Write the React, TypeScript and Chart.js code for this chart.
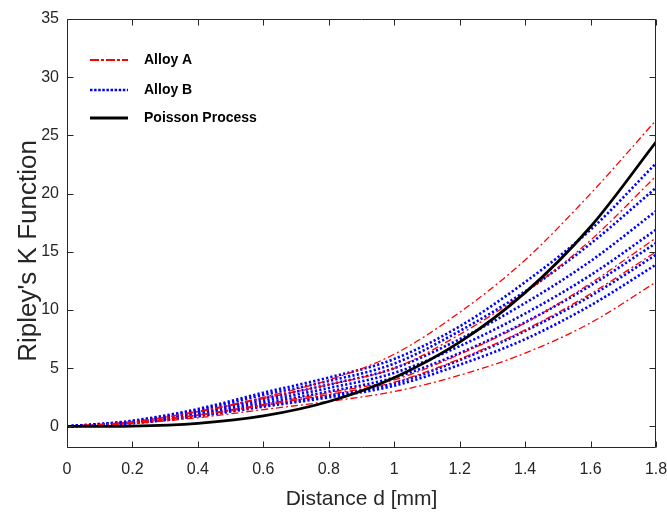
import React, { useEffect, useRef } from "react";
import { Chart, registerables } from "chart.js";

Chart.register(...registerables);

// Distance d [mm]
const DISTANCE = [0, 0.2, 0.4, 0.6, 0.8, 1.0, 1.2, 1.4, 1.6, 1.8];

// Alloy A (red dash-dot) curves
const ALLOY_A_1 = [0, 0.4, 1.3, 2.5, 4.0, 6.2, 9.8, 14.3, 20.0, 26.3];
const ALLOY_A_2 = [0, 0.4, 1.25, 2.4, 3.6, 5.0, 7.9, 11.5, 16.0, 21.5];
const ALLOY_A_3 = [0, 0.32, 1.0, 1.9, 2.9, 4.0, 6.2, 8.9, 12.3, 16.2];
const ALLOY_A_4 = [0, 0.3, 0.95, 1.8, 2.75, 3.8, 5.8, 8.3, 11.4, 15.0];
const ALLOY_A_5 = [0, 0.25, 0.75, 1.45, 2.15, 3.0, 4.4, 6.3, 8.9, 12.4];

// Alloy B (blue dotted) curves
const ALLOY_B_1 = [0, 0.5, 1.5, 2.9, 4.2, 5.8, 8.6, 12.4, 16.9, 22.6];
const ALLOY_B_2 = [0, 0.45, 1.4, 2.7, 3.9, 5.4, 8.2, 11.6, 15.7, 20.5];
const ALLOY_B_3 = [0, 0.4, 1.25, 2.4, 3.6, 5.0, 7.5, 10.6, 14.2, 18.5];
const ALLOY_B_4 = [0, 0.38, 1.15, 2.2, 3.3, 4.6, 6.9, 9.7, 13.0, 16.9];
const ALLOY_B_5 = [0, 0.35, 1.05, 2.0, 3.0, 4.2, 6.3, 8.95, 12.1, 15.75];
const ALLOY_B_6 = [0, 0.3, 0.92, 1.8, 2.65, 3.7, 5.7, 8.2, 11.2, 14.75];
const ALLOY_B_7 = [0, 0.28, 0.88, 1.7, 2.5, 3.5, 5.3, 7.5, 10.4, 13.9];

// Poisson process reference
const POISSON = [0, 0.034, 0.268, 0.905, 2.145, 4.189, 7.238, 11.494, 17.157, 24.429];

const ALLOY_A = [ALLOY_A_1, ALLOY_A_2, ALLOY_A_3, ALLOY_A_4, ALLOY_A_5];
const ALLOY_B = [ALLOY_B_1, ALLOY_B_2, ALLOY_B_3, ALLOY_B_4, ALLOY_B_5, ALLOY_B_6, ALLOY_B_7];

const X_TICKS = [0, 0.2, 0.4, 0.6, 0.8, 1, 1.2, 1.4, 1.6, 1.8];
const Y_TICKS = [0, 5, 10, 15, 20, 25, 30, 35];
const X_TICK_LABELS = ["0", "0.2", "0.4", "0.6", "0.8", "1", "1.2", "1.4", "1.6", "1.8"];
const Y_TICK_LABELS = ["0", "5", "10", "15", "20", "25", "30", "35"];

const LEGEND_LABELS = ["Alloy A", "Alloy B", "Poisson Process"];
const X_TITLE = "Distance d [mm]";
const Y_TITLE = "Ripley's K Function";

const RED = "#ff0000";
const BLUE = "#0000ff";
const BLACK = "#000000";
const AXIS = "#262626";
const FONT = "'Liberation Sans', Arial, sans-serif";

const RED_DASH = [7, 3, 2, 3];
const BLUE_DASH = [2.2, 2.2];

const toPts = (vals: number[]) => vals.map((v, i) => ({ x: DISTANCE[i], y: v }));

const boxPlugin = {
  id: "matlabBox",
  afterDatasetsDraw(chart: any) {
    const { ctx, chartArea: a, scales } = chart;
    const xs = scales.x;
    const ys = scales.y;
    ctx.save();
    ctx.strokeStyle = AXIS;
    ctx.lineWidth = 1;
    const L = Math.round(a.left) + 0.5;
    const R = Math.round(a.right) - 0.5;
    const T = Math.round(a.top) + 0.5;
    const B = Math.round(a.bottom) - 0.5;
    ctx.beginPath();
    ctx.moveTo(L, T);
    ctx.lineTo(R, T);
    ctx.lineTo(R, B);
    ctx.lineTo(L, B);
    ctx.closePath();
    const tl = 6;
    X_TICKS.forEach((v) => {
      const px = Math.round(xs.getPixelForValue(v)) + 0.5;
      ctx.moveTo(px, B);
      ctx.lineTo(px, B - tl);
      ctx.moveTo(px, T);
      ctx.lineTo(px, T + tl);
    });
    Y_TICKS.forEach((v) => {
      const py = Math.round(ys.getPixelForValue(v)) + 0.5;
      ctx.moveTo(L, py);
      ctx.lineTo(L + tl, py);
      ctx.moveTo(R, py);
      ctx.lineTo(R - tl, py);
    });
    ctx.stroke();

    // y-axis title
    ctx.save();
    ctx.translate(29, 251);
    ctx.rotate(-Math.PI / 2);
    ctx.fillStyle = AXIS;
    ctx.font = `26px ${FONT}`;
    ctx.textAlign = "center";
    ctx.textBaseline = "middle";
    ctx.fillText(Y_TITLE, 0, 0);
    ctx.restore();
    ctx.restore();
  },
};

const legendPlugin = {
  id: "insideLegend",
  afterDraw(chart: any) {
    const { ctx } = chart;
    const items = [
      { label: LEGEND_LABELS[0], color: RED, dash: [9, 2, 3, 2], width: 2 },
      { label: LEGEND_LABELS[1], color: BLUE, dash: [2.5, 1.6], width: 2.6 },
      { label: LEGEND_LABELS[2], color: BLACK, dash: [], width: 2.8 },
    ];
    const ys = [60, 90, 118];
    ctx.save();
    items.forEach((it, i) => {
      const y = ys[i];
      ctx.beginPath();
      ctx.strokeStyle = it.color;
      ctx.lineWidth = it.width;
      ctx.setLineDash(it.dash);
      ctx.lineCap = "butt";
      ctx.moveTo(90, y);
      ctx.lineTo(128, y);
      ctx.stroke();
      ctx.setLineDash([]);
      ctx.fillStyle = "#000";
      ctx.font = `bold 14px ${FONT}`;
      ctx.textBaseline = "middle";
      ctx.textAlign = "left";
      ctx.fillText(it.label, 144, y);
    });
    ctx.restore();
  },
};

export default function App() {
  const ref = useRef<HTMLCanvasElement | null>(null);

  useEffect(() => {
    if (!ref.current) return;
    const datasets: any[] = [];
    ALLOY_A.forEach((vals, i) => {
      datasets.push({
        label: i === 0 ? LEGEND_LABELS[0] : LEGEND_LABELS[0] + " " + (i + 1),
        data: toPts(vals),
        borderColor: RED,
        borderWidth: 1.3,
        borderDash: RED_DASH,
        pointRadius: 0,
        fill: false,
        cubicInterpolationMode: "monotone",
        order: 1,
      });
    });
    ALLOY_B.forEach((vals, i) => {
      datasets.push({
        label: i === 0 ? LEGEND_LABELS[1] : LEGEND_LABELS[1] + " " + (i + 1),
        data: toPts(vals),
        borderColor: BLUE,
        borderWidth: 2.6,
        borderDash: BLUE_DASH,
        borderCapStyle: "butt",
        pointRadius: 0,
        fill: false,
        cubicInterpolationMode: "monotone",
        order: 2,
      });
    });
    datasets.push({
      label: LEGEND_LABELS[2],
      data: toPts(POISSON),
      borderColor: BLACK,
      borderWidth: 2.8,
      pointRadius: 0,
      fill: false,
      cubicInterpolationMode: "monotone",
      order: 0,
    });

    const chart = new Chart(ref.current, {
      type: "line",
      data: { datasets },
      plugins: [boxPlugin, legendPlugin],
      options: {
        animation: false,
        responsive: false,
        devicePixelRatio: 1,
        layout: { padding: { top: 19, right: 11, left: 0, bottom: 0 } },
        plugins: { legend: { display: false }, tooltip: { enabled: false } },
        scales: {
          x: {
            type: "linear",
            min: 0,
            max: 1.8,
            afterBuildTicks: (s: any) => {
              s.ticks = X_TICKS.map((v) => ({ value: v }));
            },
            afterFit: (s: any) => {
              s.height = 66;
              s.paddingLeft = 0;
              s.paddingRight = 0;
            },
            grid: { display: false, drawTicks: false },
            border: { display: false },
            ticks: {
              autoSkip: false,
              maxRotation: 0,
              padding: 12,
              color: AXIS,
              font: { family: FONT, size: 16 },
              callback: (v: any) => {
                const i = X_TICKS.findIndex((t) => Math.abs(t - Number(v)) < 1e-6);
                return i >= 0 ? X_TICK_LABELS[i] : "";
              },
            },
            title: {
              display: true,
              text: X_TITLE,
              color: AXIS,
              font: { family: FONT, size: 21 },
              padding: { top: 0, bottom: 2 },
            },
          },
          y: {
            type: "linear",
            min: -1.85,
            max: 35,
            afterBuildTicks: (s: any) => {
              s.ticks = Y_TICKS.map((v) => ({ value: v }));
            },
            afterFit: (s: any) => {
              s.width = 67;
              s.paddingTop = 0;
              s.paddingBottom = 0;
            },
            grid: { display: false, drawTicks: false },
            border: { display: false },
            ticks: {
              autoSkip: false,
              padding: 8,
              color: AXIS,
              font: { family: FONT, size: 16 },
              callback: (v: any) => {
                const i = Y_TICKS.findIndex((t) => Math.abs(t - Number(v)) < 1e-6);
                return i >= 0 ? Y_TICK_LABELS[i] : "";
              },
            },
            title: { display: false },
          },
        },
      },
    });
    return () => chart.destroy();
  }, []);

  return (
    <div style={{ position: "fixed", left: 0, top: 0, width: 667, height: 514, background: "#fff" }}>
      <canvas ref={ref} width={667} height={514} style={{ display: "block", width: 667, height: 514 }} />
    </div>
  );
}
